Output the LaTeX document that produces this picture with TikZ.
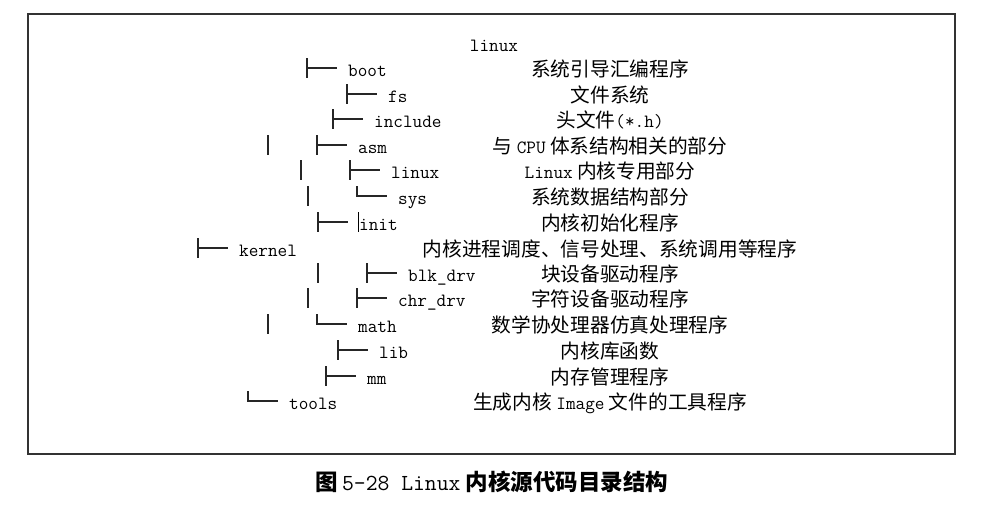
\documentclass[tikz,border=0pt]{standalone}
\usepackage{fontspec}
\newfontfamily\cjk{Noto Sans CJK SC}
\usepackage{tikz}
\usetikzlibrary{calc,positioning}
\tikzset{
    dirnode/.style={ % file and folder names
        anchor=base west,
        inner sep=0pt,
        font=\fontsize{18.7}{20}\selectfont\ttfamily
    },
    notenode/.style={ % requires fontspec
        anchor=base,
        inner sep=0pt,
        font=\fontsize{19.7}{20}\selectfont\cjk
    },
    capnode/.style={
        anchor=base,
        inner sep=0pt,
        font=\fontsize{22.5}{24}\selectfont\cjk\bfseries
    },
    branch/.style={
        line width=1.7pt,
        black!85
    }
}
\newcommand{\lat}[2][18.7]{{\fontsize{#1}{20}\selectfont\ttfamily\mdseries #2}}
% tree glyphs, drawn left of a name node
\newcommand{\tee}[1]{
    \draw[branch] ($(#1.base west)+(-41,-18)$) -- ++(0,20);
    \draw[branch] ($(#1.base west)+(-41,-8)$) -- ++(30,0);
}
\newcommand{\elbow}[1]{
    \draw[branch] ($(#1.base west)+(-41,-18)$) -- ++(0,10) -- ++(30,0);
}
\newcommand{\vbar}[1]{
    \draw[branch] ($(#1.base west)+(-90,-18)$) -- ++(0,20);
}

\begin{document}
\begin{tikzpicture}[x=1pt,y=-1pt]
        \useasboundingbox (0,0) rectangle (981,506);
        \draw[line width=2.5pt,black!80] (28,14) rectangle (955,454);

        \node[dirnode,anchor=base] (root) at (494,51) {linux};

        \node[dirnode] (boot) at (348,76) {boot};
        \node[dirnode] (fs) at (388,102) {fs};
        \node[dirnode] (include) at (374,127) {include};
        \node[dirnode] (asm) at (358,153) {asm};
        \node[dirnode] (linux) at (391,178) {linux};
        \node[dirnode] (sys) at (398,204) {sys};
        \node[dirnode] (init) at (359,230) {init};
        \node[dirnode] (kernel) at (239,256) {kernel};
        \node[dirnode] (blkdrv) at (408,281) {blk\_drv};
        \node[dirnode] (chrdrv) at (398,306) {chr\_drv};
        \node[dirnode] (math) at (358,332) {math};
        \node[dirnode] (lib) at (379,358) {lib};
        \node[dirnode] (mm) at (367,384) {mm};
        \node[dirnode] (tools) at (289,409) {tools};

        \tee{boot} \tee{fs} \tee{include}
        \vbar{asm} \tee{asm}
        \vbar{linux} \tee{linux}
        \vbar{sys} \elbow{sys}
        \tee{init}
        \draw[line width=0.8pt] ($(init.base west)+(-1,-18)$) -- ++(0,20);
        \tee{kernel}
        \vbar{blkdrv} \tee{blkdrv}
        \vbar{chrdrv} \tee{chrdrv}
        \vbar{math} \elbow{math}
        \tee{lib} \tee{mm}
        \elbow{tools}

        \node[notenode] (bootnote) at (610,76) {系统引导汇编程序};
        \node[notenode] (fsnote) at (610,102) {文件系统};
        \node[notenode] (includenote) at (610,127) {头文件\lat{(*.h)}};
        \node[notenode] (asmnote) at (610,153) {与 \lat{CPU} 体系结构相关的部分};
        \node[notenode] (linuxnote) at (610,178) {\lat{Linux} 内核专用部分};
        \node[notenode] (sysnote) at (610,204) {系统数据结构部分};
        \node[notenode] (initnote) at (610,230) {内核初始化程序};
        \node[notenode] (kernelnote) at (610,256) {内核进程调度、信号处理、系统调用等程序};
        \node[notenode] (blkdrvnote) at (610,281) {块设备驱动程序};
        \node[notenode] (chrdrvnote) at (610,306) {字符设备驱动程序};
        \node[notenode] (mathnote) at (610,332) {数学协处理器仿真处理程序};
        \node[notenode] (libnote) at (610,358) {内核库函数};
        \node[notenode] (mmnote) at (610,384) {内存管理程序};
        \node[notenode] (toolsnote) at (610,409) {生成内核 \lat{Image} 文件的工具程序};

        \node[capnode] (caption) at (492,490) {图\,\lat[23]{5-28 Linux} 内核源代码目录结构};
    \end{tikzpicture}
\end{document}
